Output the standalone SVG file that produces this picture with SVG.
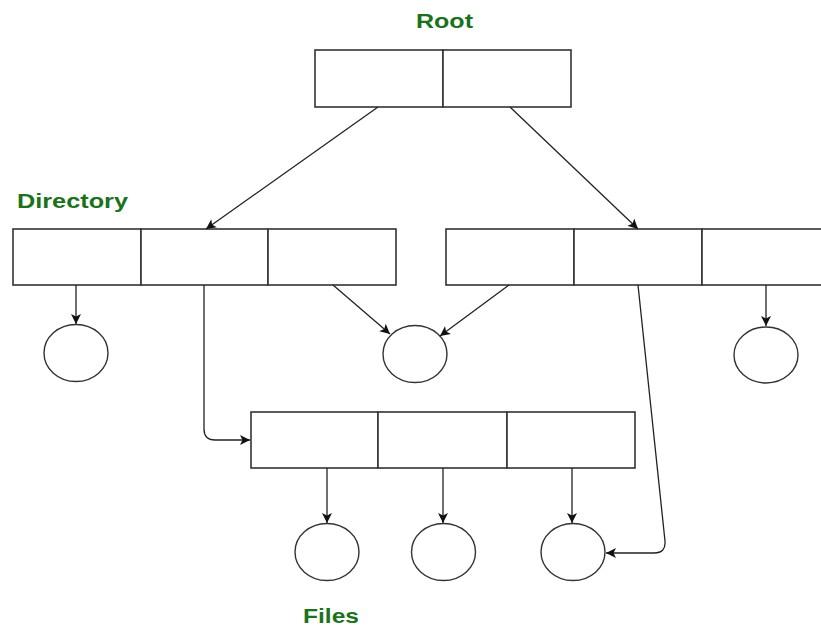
<svg xmlns="http://www.w3.org/2000/svg" width="821" height="629" viewBox="0 0 821 629">
  <style>
    .cell { fill: #ffffff; stroke: #333333; stroke-width: 1.6; }
    .file { fill: #ffffff; stroke: #333333; stroke-width: 1.4; }
    .link { fill: none; stroke: #222222; stroke-width: 1.3; marker-end: url(#head); }
    .label { font-family: "Liberation Sans", Arial, sans-serif; font-weight: bold; font-size: 21px; fill: #1b721b; }
  </style>
  <defs>
    <marker id="head" viewBox="0 0 10 10" refX="10" refY="5" markerWidth="10" markerHeight="10" markerUnits="userSpaceOnUse" orient="auto">
      <path d="M0,0 L10,5 L0,10 L2.5,5 Z" fill="#111111"/>
    </marker>
  </defs>
  <rect width="821" height="629" fill="#ffffff"/>

  <!-- labels -->
  <text class="label" x="416" y="28" textLength="57" lengthAdjust="spacingAndGlyphs">Root</text>
  <text class="label" x="17" y="208" textLength="111" lengthAdjust="spacingAndGlyphs">Directory</text>
  <text class="label" x="303" y="623" textLength="56" lengthAdjust="spacingAndGlyphs">Files</text>

  <!-- root directory -->
  <g id="root">
    <rect class="cell" x="315" y="50" width="128" height="57"/>
    <rect class="cell" x="443" y="50" width="128" height="57"/>
  </g>

  <!-- first-level directories -->
  <g id="dir-left">
    <rect class="cell" x="13" y="229" width="128" height="56"/>
    <rect class="cell" x="141" y="229" width="127" height="56"/>
    <rect class="cell" x="268" y="229" width="128" height="56"/>
  </g>
  <g id="dir-right">
    <rect class="cell" x="446" y="229" width="128" height="56"/>
    <rect class="cell" x="574" y="229" width="128" height="56"/>
    <rect class="cell" x="702" y="229" width="128" height="56"/>
  </g>

  <!-- subdirectory -->
  <g id="dir-sub">
    <rect class="cell" x="251" y="412" width="127" height="56"/>
    <rect class="cell" x="378" y="412" width="129" height="56"/>
    <rect class="cell" x="507" y="412" width="128" height="56"/>
  </g>

  <!-- files -->
  <g id="file-1"><ellipse class="file" cx="76" cy="353" rx="32" ry="28.5"/></g>
  <g id="file-2"><ellipse class="file" cx="415" cy="354" rx="32" ry="28.5"/></g>
  <g id="file-3"><ellipse class="file" cx="766" cy="355" rx="32" ry="28"/></g>
  <g id="file-4"><ellipse class="file" cx="327" cy="552" rx="32" ry="28.5"/></g>
  <g id="file-5"><ellipse class="file" cx="443.5" cy="552" rx="32" ry="28.5"/></g>
  <g id="file-6"><ellipse class="file" cx="573" cy="552" rx="32" ry="28.5"/></g>

  <!-- connectors -->
  <g id="connectors">
    <path class="link" d="M378,107 L206,229"/>
    <path class="link" d="M510,107 L638,229"/>
    <path class="link" d="M76,285 L76,324"/>
    <path class="link" d="M204,285 L204,429 Q204,440 215,440 L250,440"/>
    <path class="link" d="M333,285 L390,334"/>
    <path class="link" d="M509,285 L440,336"/>
    <path class="link" d="M638,285 L665,541 Q666,553 654,553 L606,553"/>
    <path class="link" d="M766,285 L766,326"/>
    <path class="link" d="M327,468 L327,523"/>
    <path class="link" d="M443,468 L443,523"/>
    <path class="link" d="M572,468 L572,523"/>
  </g>
</svg>
